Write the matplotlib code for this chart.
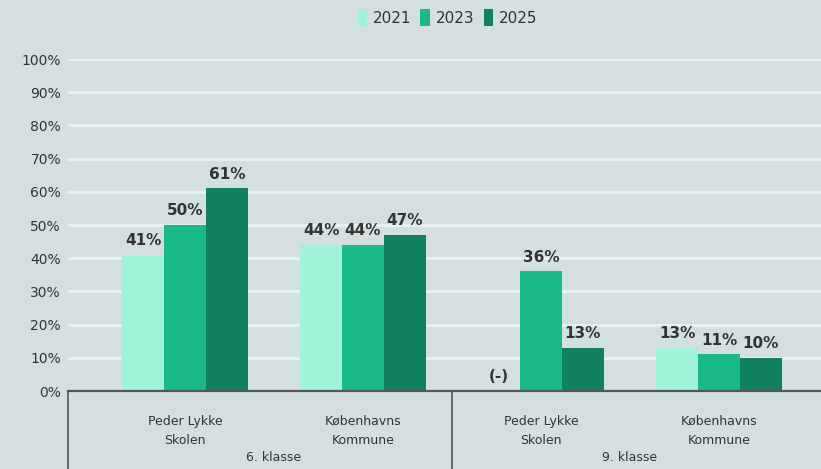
import matplotlib
matplotlib.use("Agg")
import matplotlib.pyplot as plt
import numpy as np

categories = ["Peder Lykke\nSkolen", "Københavns\nKommune", "Peder Lykke\nSkolen", "Københavns\nKommune"]
groups = ["6. klasse", "9. klasse"]
years = ["2021", "2023", "2025"]
v2021 = [41, 44, None, 13]
v2023 = [50, 44, 36, 11]
v2025 = [61, 47, 13, 10]
yticks = [0, 10, 20, 30, 40, 50, 60, 70, 80, 90, 100]

colors = ["#a0f2d9", "#19b98a", "#10805f"]
bg = "#d4e0e0"
txt = "#333333"

fig = plt.figure(figsize=(8.21, 4.69), dpi=100, facecolor=bg)
ax = fig.add_axes([68/821, 78/469, 1 - 68/821, 332/469], facecolor=bg)

x = np.arange(len(categories))
w = 0.235
series = [v2021, v2023, v2025]
for i, (vals, c, yr) in enumerate(zip(series, colors, years)):
    xs = x + (i - 1) * w
    h = [v if v is not None else 0 for v in vals]
    ax.bar(xs, h, width=w, color=c, label=yr, zorder=3)
    for xi, v in zip(xs, vals):
        lab = f"{v}%" if v is not None else "(-)"
        yy = v if v is not None else 0
        ax.annotate(lab, (xi, yy), xytext=(0, 5), textcoords="offset points",
                    ha="center", va="bottom", fontsize=11, fontweight="bold",
                    color=txt, zorder=4)

ax.set_xlim(-0.657, 3.573)
ax.set_ylim(0, 100)
ax.set_yticks(yticks)
ax.set_yticklabels([f"{t}%" for t in yticks], fontsize=10, color=txt)
ax.tick_params(axis="y", length=0, pad=5)
ax.set_xticks([])
ax.grid(axis="y", color="#e9f1f1", linewidth=2, zorder=0)
for s in ax.spines.values():
    s.set_visible(False)
ax.axhline(0, color="#555555", linewidth=1.6, zorder=5, clip_on=False)

# lower category box lines
trans = ax.get_xaxis_transform()
for xv in [-0.657, 1.5]:
    ax.plot([xv, xv], [0, -0.25], transform=trans, color="#555555",
            linewidth=1.2, clip_on=False)

for xi, cat in zip(x, categories):
    ax.text(xi, -0.12, cat, transform=trans, ha="center", va="center",
            fontsize=9, color=txt, linespacing=1.65)
for gx, g in zip([0.5, 2.5], groups):
    ax.text(gx, -0.2, g, transform=trans, ha="center", va="center",
            fontsize=9, color=txt)

fig.legend(loc="upper center", bbox_to_anchor=(0.545, 1.01), ncol=3, frameon=False,
           fontsize=11, handlelength=0.6, handleheight=1.3, handletextpad=0.4,
           columnspacing=0.6, labelcolor=txt)

fig.savefig("out.png", dpi=100, facecolor=bg)
